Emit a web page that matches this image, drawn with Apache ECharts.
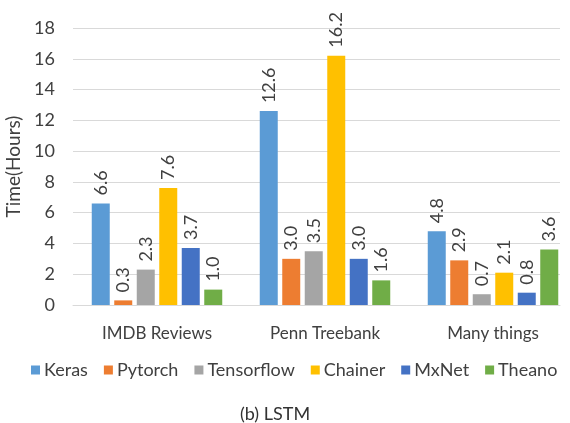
<!DOCTYPE html>
<html>
	<head>
		<meta charset="UTF-8" />
		<script src="https://cdn.jsdelivr.net/npm/echarts@6/dist/echarts.min.js"></script>
		<title>LSTM</title>
		<style>
			body {
				margin: 0;
				background-color: #fff;
				overflow: hidden;
			}
			#chart {
				width: 570px;
				height: 423px;
			}
		</style>
	</head>
	<body>
		<div id="chart"></div>
	</body>
</html>

<script>
	var categories = ['IMDB Reviews', 'Penn Treebank', 'Many things']
	var frameworks = ['Keras', 'Pytorch', 'Tensorflow', 'Chainer', 'MxNet', 'Theano']
	var colors = ['#5B9BD5', '#ED7D31', '#A5A5A5', '#FFC000', '#4472C4', '#70AD47']
	var keras = [6.6, 12.6, 4.8]
	var pytorch = [0.3, 3.0, 2.9]
	var tensorflow = [2.3, 3.5, 0.7]
	var chainer = [7.6, 16.2, 2.1]
	var mxnet = [3.7, 3.0, 0.8]
	var theano = [1.0, 1.6, 3.6]
	var values = [keras, pytorch, tensorflow, chainer, mxnet, theano]

	var font = 'Lato'
	var chart = echarts.init(document.getElementById('chart'))

	var series = []
	for (var i = 0; i < frameworks.length; i++) {
		series.push({
			name: frameworks[i],
			type: 'bar',
			xAxisIndex: 1,
			yAxisIndex: 1,
			data: values[i],
			barWidth: 18,
			barGap: '25%',
			itemStyle: { color: colors[i] },
			label: {
				show: true,
				position: 'top',
				rotate: 90,
				align: 'left',
				verticalAlign: 'middle',
				distance: 8,
				color: '#404040',
				fontSize: 18,
				fontFamily: font,
				formatter: function (p) {
					return p.value.toFixed(1)
				},
			},
		})
	}

	var option = {
		animation: false,
		color: colors,
		title: {
			text: '(b) LSTM',
			left: 240,
			top: 405,
			padding: 0,
			textStyle: { fontSize: 18, fontWeight: 'normal', color: '#333', fontFamily: font },
		},
		legend: {
			data: frameworks,
			top: 361,
			left: 31,
			padding: 0,
			itemWidth: 9,
			itemHeight: 9,
			itemGap: 16,
			icon: 'rect',
			textStyle: { fontSize: 18, color: '#404040', fontFamily: font, padding: [0, 0, 0, -1] },
		},
		// grid 0 carries the gridlines, grid 1 places the bars (its bands run a bit past the plot edge)
		grid: [
			{ left: 73, right: 10, top: 28, bottom: 118, outerBoundsMode: 'none' },
			{ left: 73, width: 504, top: 28, bottom: 118, outerBoundsMode: 'none', containLabel: false },
		],
		xAxis: [
			{
				type: 'category',
				gridIndex: 0,
				data: categories,
				axisTick: { show: false },
				axisLabel: { show: false },
				axisLine: { lineStyle: { color: '#d9d9d9' } },
			},
			{
				type: 'category',
				gridIndex: 1,
				data: categories,
				axisTick: { show: false },
				axisLine: { show: false },
				axisLabel: { fontSize: 17, color: '#404040', fontFamily: font, margin: 20 },
			},
		],
		yAxis: [
			{
				type: 'value',
				gridIndex: 0,
				min: 0,
				max: 18,
				interval: 2,
				name: 'Time(Hours)',
				nameLocation: 'middle',
				nameRotate: 90,
				nameGap: 50,
				nameTextStyle: { fontSize: 19, color: '#404040', fontFamily: font },
				axisLine: { show: false },
				axisTick: { show: false },
				axisLabel: { fontSize: 18, color: '#404040', fontFamily: font, margin: 18 },
				splitLine: { lineStyle: { color: '#d9d9d9' } },
			},
			{
				type: 'value',
				gridIndex: 1,
				min: 0,
				max: 18,
				interval: 2,
				axisLine: { show: false },
				axisTick: { show: false },
				axisLabel: { show: false },
				splitLine: { show: false },
			},
		],
		series: series,
	}
	chart.setOption(option)
</script>
